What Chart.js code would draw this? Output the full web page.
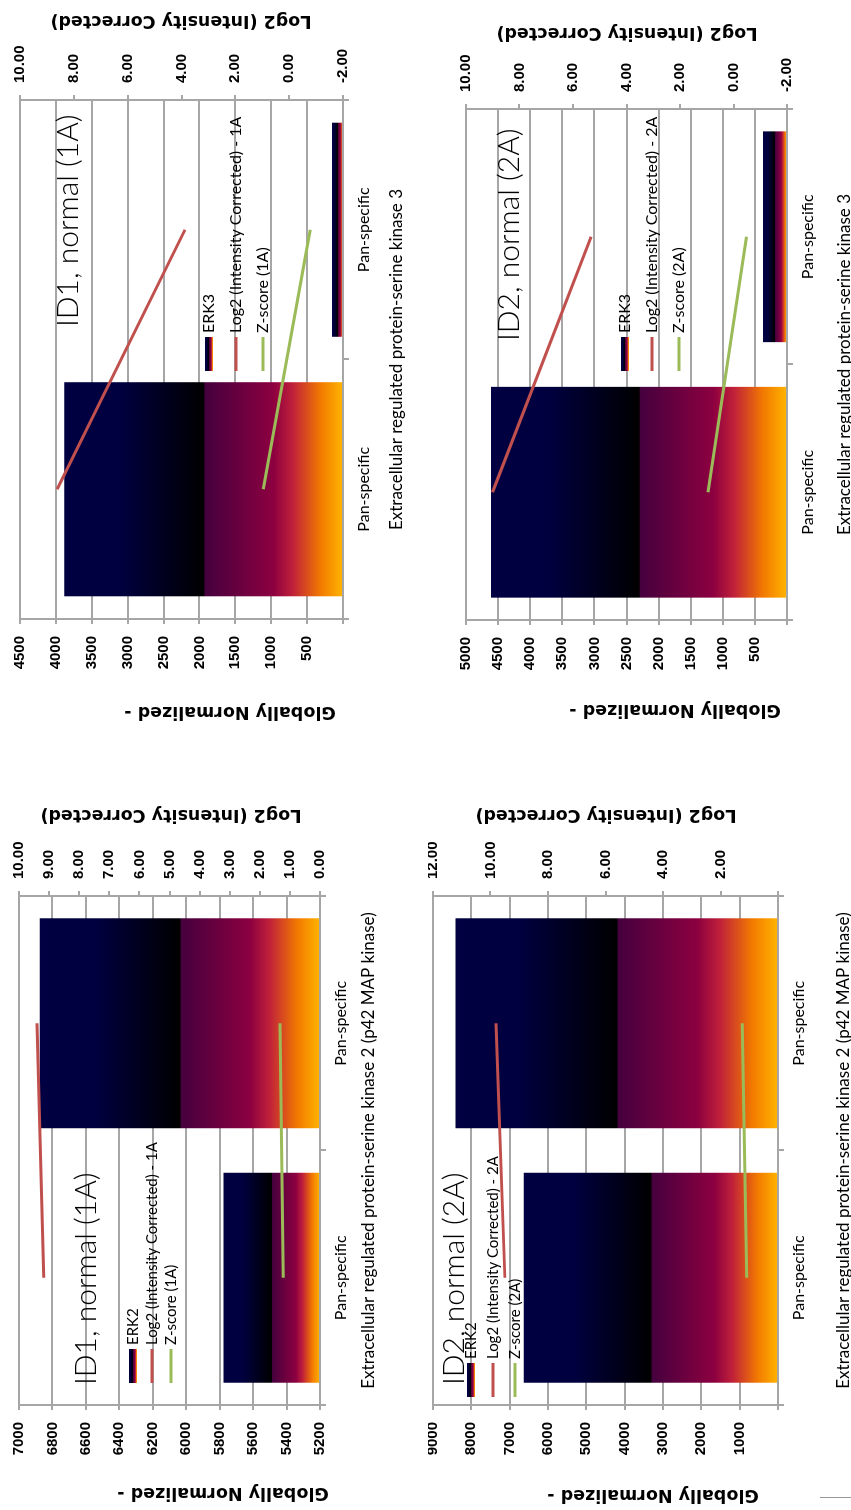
<!DOCTYPE html>
<html>
<head>
<meta charset="utf-8">
<title>ERK2 / ERK3 normal</title>
<script src="https://cdn.jsdelivr.net/npm/chart.js@4.4.1/dist/chart.umd.min.js"></script>
<style>
  html, body { margin: 0; padding: 0; background: #fff; }
  body { position: relative; width: 851px; height: 1510px; overflow: hidden; }
  .panel { position: absolute; transform-origin: 0 0; }
  .panel canvas { display: block; }
</style>
</head>
<body>
<div class="panel" id="p1"><canvas id="c1"></canvas></div>
<div class="panel" id="p2"><canvas id="c2"></canvas></div>
<div class="panel" id="p3"><canvas id="c3"></canvas></div>
<div class="panel" id="p4"><canvas id="c4"></canvas></div>
<div style="position:absolute;left:820px;top:1497px;width:31px;height:1px;background:#999"></div>
<script>
// ---- data ----
const categories = ['Pan-specific', 'Pan-specific'];

const erk3Name = 'Extracellular regulated protein-serine kinase 3';
const erk2Name = 'Extracellular regulated protein-serine kinase 2 (p42 MAP kinase)';

// ID1, normal (1A) - ERK3
const erk3Norm1A = [3883, 153];
const erk3Log2_1A = [8.62, 3.87];
const erk3Z_1A = [0.96, -0.78];

// ID2, normal (2A) - ERK3
const erk3Norm2A = [4611, 374];
const erk3Log2_2A = [9.01, 5.32];
const erk3Z_2A = [0.95, -0.49];

// ID1, normal (1A) - ERK2
const erk2Norm1A = [5777, 6876];
const erk2Log2_1A = [9.18, 9.40];
const erk2Z_1A = [1.22, 1.33];

// ID2, normal (2A) - ERK2
const erk2Norm2A = [6633, 8411];
const erk2Log2_2A = [9.50, 9.81];
const erk2Z_2A = [1.09, 1.24];

// axis ranges: [min, max, step]
const leftAxes = [[0, 4500, 500], [0, 5000, 500], [5200, 7000, 200], [0, 9000, 1000]];
const rightAxes = [[-2, 10, 2], [-2, 10, 2], [0, 10, 1], [0, 12, 2]];

// ---- look ----
const RED = '#C0504D';
const GREEN = '#9BBB59';
const GRID = '#a6a6a6';
const TICK_FONT = { family: '"Liberation Sans", Arial, sans-serif', size: 15, weight: 'bold' };
const fireStops = [
  [0, '#FFB400'], [0.08, '#F27A00'], [0.18, '#C0203A'], [0.25, '#8C0040'],
  [0.495, '#46003E'], [0.5, '#000000'], [0.8, '#00003F'], [1, '#000042']
];

function makeFire(ctx, x0, y0, x1, y1) {
  const g = ctx.createLinearGradient(x0, y0, x1, y1);
  fireStops.forEach(([p, c]) => g.addColorStop(p, c));
  return g;
}

function fireBar(c) {
  const chart = c.chart;
  if (!chart.chartArea || c.type !== 'data') return '#000040';
  const ys = chart.scales.y;
  return makeFire(chart.ctx, 0, ys.getPixelForValue(ys.min), 0, ys.getPixelForValue(c.raw));
}

// panel layout (unrotated chart coordinates; each panel is turned 90deg ccw)
const panels = [
  { id: 'c1', box: 'p1', X0: 0, Y0: 0, W: 740, H: 430, area: { l: 121, r: 640, t: 20, b: 343 },
    bars: erk3Norm1A, log2: erk3Log2_1A, z: erk3Z_1A, left: leftAxes[0], right: rightAxes[0],
    hideLeftZero: true, hideRightZero: false,
    group: erk3Name, groupY: 397, title: 'ID1, normal (1A)', titlePos: [413, 68],
    legX: [369, 403], legRows: [209, 236, 263], legFont: 16,
    leftTitle: [28, 230], rightTitle: [719, 181],
    barLabel: 'ERK3', log2Label: 'Log2 (Intensity Corrected) - 1A', zLabel: 'Z-score (1A)' },
  { id: 'c2', box: 'p2', X0: 430, Y0: 0, W: 740, H: 430, area: { l: 120, r: 631, t: 36, b: 357 },
    bars: erk3Norm2A, log2: erk3Log2_2A, z: erk3Z_2A, left: leftAxes[1], right: rightAxes[1],
    hideLeftZero: true, hideRightZero: false,
    group: erk3Name, groupY: 415, title: 'ID2, normal (2A)', titlePos: [399, 79],
    legX: [369, 403], legRows: [195, 222, 249], legFont: 16,
    leftTitle: [30, 245], rightTitle: [707, 197],
    barLabel: 'ERK3', log2Label: 'Log2 (Intensity Corrected) - 2A', zLabel: 'Z-score (2A)' },
  { id: 'c3', box: 'p3', X0: 0, Y0: 760, W: 750, H: 430, area: { l: 105, r: 614, t: 19, b: 320 },
    bars: erk2Norm1A, log2: erk2Log2_1A, z: erk2Z_1A, left: leftAxes[2], right: rightAxes[2],
    hideLeftZero: false, hideRightZero: false,
    group: erk2Name, groupY: 369, title: 'ID1, normal (1A)', titlePos: [125, 86],
    legX: [127, 161], legRows: [133, 152, 171], legFont: 15,
    leftTitle: [17, 223], rightTitle: [695, 171],
    barLabel: 'ERK2', log2Label: 'Log2 (Intensity Corrected) - 1A', zLabel: 'Z-score (1A)' },
  { id: 'c4', box: 'p4', X0: 428, Y0: 760, W: 750, H: 430, area: { l: 105, r: 614, t: 5, b: 350 },
    bars: erk2Norm2A, log2: erk2Log2_2A, z: erk2Z_2A, left: leftAxes[3], right: rightAxes[3],
    hideLeftZero: true, hideRightZero: true,
    group: erk2Name, groupY: 416, title: 'ID2, normal (2A)', titlePos: [125, 26],
    legX: [113, 147], legRows: [43, 65, 87], legFont: 15,
    leftTitle: [15, 225], rightTitle: [695, 178],
    barLabel: 'ERK2', log2Label: 'Log2 (Intensity Corrected) - 2A', zLabel: 'Z-score (2A)' }
];

// title, legend and rotated axis titles
const decor = {
  id: 'decor',
  afterDraw(chart, args, o) {
    const ctx = chart.ctx;
    ctx.save();
    ctx.fillStyle = '#000';
    ctx.textBaseline = 'middle';

    const rotText = (txt, pos) => {
      ctx.save();
      ctx.translate(pos[0], pos[1]);
      ctx.rotate(-Math.PI / 2);
      ctx.textAlign = 'center';
      ctx.font = 'bold 17.5px "DejaVu Sans", Verdana, sans-serif';
      ctx.fillText(txt, 0, 0);
      ctx.restore();
    };
    rotText('Globally Normalized -', o.leftTitle);
    rotText('Log2 (Intensity Corrected)', o.rightTitle);

    ctx.textAlign = 'left';
    ctx.font = '300 30px Lato, sans-serif';
    ctx.fillText(o.title, o.titlePos[0], o.titlePos[1]);

    ctx.font = o.legFont + 'px Lato, sans-serif';
    const [x0, x1] = o.legX;
    const items = [
      { kind: 'bar', label: o.barLabel },
      { kind: 'line', color: RED, label: o.log2Label },
      { kind: 'line', color: GREEN, label: o.zLabel }
    ];
    items.forEach((it, i) => {
      const y = o.legRows[i];
      if (it.kind === 'bar') {
        ctx.fillStyle = makeFire(ctx, 0, y + 4, 0, y - 4);
        ctx.fillRect(x0, y - 4, x1 - x0, 8);
      } else {
        ctx.strokeStyle = it.color;
        ctx.lineWidth = 3;
        ctx.beginPath();
        ctx.moveTo(x0, y);
        ctx.lineTo(x1, y);
        ctx.stroke();
      }
      ctx.fillStyle = '#000';
      ctx.fillText(it.label, x1 + 4, y);
    });
    ctx.restore();
  }
};

panels.forEach(p => {
  const box = document.getElementById(p.box);
  box.style.left = p.X0 + 'px';
  box.style.top = p.Y0 + 'px';
  box.style.width = p.W + 'px';
  box.style.height = p.H + 'px';
  box.style.transform = 'translate(0px, ' + p.W + 'px) rotate(-90deg)';

  const canvas = document.getElementById(p.id);
  canvas.width = p.W;
  canvas.height = p.H;

  const groupLH = 17 * 1.2;

  new Chart(canvas, {
    type: 'bar',
    data: {
      labels: categories,
      datasets: [
        { type: 'line', label: p.log2Label, data: p.log2, yAxisID: 'y2', borderColor: RED,
          borderWidth: 3, pointRadius: 0, order: 0 },
        { type: 'line', label: p.zLabel, data: p.z, yAxisID: 'y2', borderColor: GREEN,
          borderWidth: 3, pointRadius: 0, order: 0 },
        { type: 'bar', label: p.barLabel, data: p.bars, yAxisID: 'y', backgroundColor: fireBar,
          base: p.left[0], barPercentage: 0.825, categoryPercentage: 1, borderWidth: 0, order: 1 }
      ]
    },
    options: {
      responsive: false,
      animation: false,
      events: [],
      layout: { autoPadding: false, padding: { top: p.area.t, left: 0, right: 0, bottom: 0 } },
      plugins: {
        legend: { display: false },
        tooltip: { enabled: false },
        decor: p
      },
      scales: {
        x: {
          offset: true,
          grid: { offset: true, drawOnChartArea: false, tickLength: 6, color: GRID, lineWidth: 2 },
          border: { display: true, color: GRID, width: 2 },
          ticks: { color: '#000', font: { family: 'Lato, sans-serif', size: 16 }, padding: 5,
                   maxRotation: 0, autoSkip: false },
          title: { display: true, text: p.group, color: '#000',
                   font: { family: 'Lato, sans-serif', size: 17 },
                   padding: { top: 0, bottom: p.H - p.groupY - groupLH / 2 } },
          afterFit: s => { s.height = p.H - p.area.b; s.paddingLeft = 0; s.paddingRight = 0; }
        },
        y: {
          position: 'left',
          min: p.left[0], max: p.left[1],
          ticks: { stepSize: p.left[2], color: '#000', font: TICK_FONT, padding: 12,
                   callback: v => (p.hideLeftZero && v === 0) ? '' : String(v) },
          grid: { color: GRID, lineWidth: 2, tickLength: 5 },
          border: { display: true, color: GRID, width: 2 },
          afterFit: s => { s.width = p.area.l; s.paddingTop = 0; s.paddingBottom = 0; }
        },
        y2: {
          position: 'right',
          min: p.right[0], max: p.right[1],
          ticks: { stepSize: p.right[2], color: '#000', font: TICK_FONT, padding: 12,
                   callback: v => (p.hideRightZero && v === 0) ? '' : v.toFixed(2) },
          grid: { drawOnChartArea: false, color: GRID, lineWidth: 2, tickLength: 5 },
          border: { display: true, color: GRID, width: 2 },
          afterFit: s => { s.width = p.W - p.area.r; s.paddingTop = 0; s.paddingBottom = 0; }
        }
      }
    },
    plugins: [decor]
  });
});
</script>
</body>
</html>
